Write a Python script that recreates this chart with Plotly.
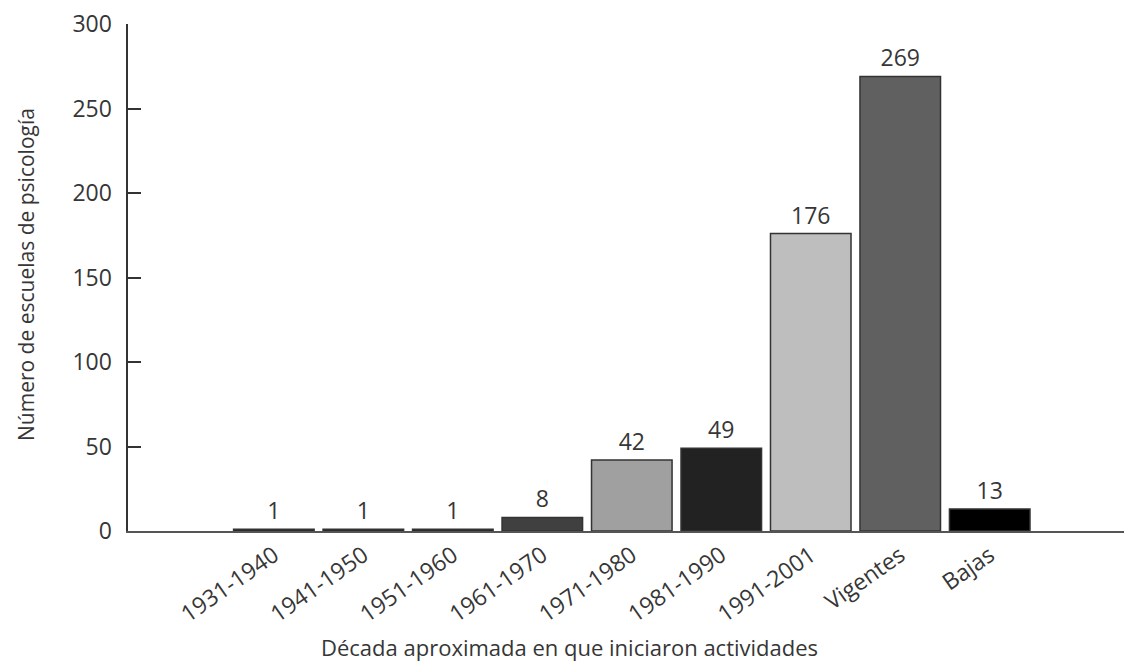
import plotly.graph_objects as go

categories = ["1931-1940", "1941-1950", "1951-1960", "1961-1970", "1971-1980",
              "1981-1990", "1991-2001", "Vigentes", "Bajas"]
values = [1, 1, 1, 8, 42, 49, 176, 269, 13]
colors = ["#111111", "#111111", "#111111", "#404040", "#a0a0a0",
          "#222222", "#bebebe", "#606060", "#000000"]
y_ticks = [0, 50, 100, 150, 200, 250, 300]

x_pos = list(range(len(categories)))
FONT = "Open Sans"
TXT = "#363636"

fig = go.Figure(go.Bar(
    x=x_pos, y=values, width=0.9,
    marker=dict(color=colors, line=dict(color="#333333", width=1.5)),
    text=[str(v) for v in values], textposition="outside",
    textfont=dict(family=FONT, size=23, color=TXT),
    cliponaxis=False,
))

fig.update_layout(
    width=1124, height=656,
    margin=dict(l=120, r=0, t=16, b=133, autoexpand=False),
    paper_bgcolor="white", plot_bgcolor="white",
    showlegend=False,
    font=dict(family=FONT, color=TXT),
    xaxis=dict(
        range=[-1.63, 9.59], tickmode="array", tickvals=x_pos, ticktext=categories,
        tickangle=-35, tickfont=dict(size=23, color=TXT), automargin=False,
        showgrid=False, zeroline=False, showline=True, linecolor="#555555", linewidth=2,
        ticks="", fixedrange=True, ticklabeloverflow="allow",
    ),
    yaxis=dict(
        range=[0, 300], tickmode="array", tickvals=y_ticks,
        ticktext=[str(v) + "\u00a0\u2009" for v in y_ticks],
        tickfont=dict(size=23, color=TXT), automargin=False,
        showgrid=False, zeroline=False, showline=True, linecolor="#333333", linewidth=1.5,
        ticks="inside", ticklen=13, tickwidth=1.5, tickcolor="#333333",
        ticklabeloverflow="allow",
    ),
    annotations=[
        dict(
            text="Década aproximada en que iniciaron actividades", xref="paper", yref="paper",
            x=(569 - 128) / 1004, y=-(647 - 531) / 507, xanchor="center", yanchor="middle",
            showarrow=False, font=dict(size=22, color=TXT),
        ),
        dict(
            text="Número de escuelas de psicología", xref="paper", yref="paper",
            x=(26 - 128) / 1004, y=(531 - 275) / 507, xanchor="center", yanchor="middle",
            textangle=-90, showarrow=False, font=dict(size=21, color=TXT),
        ),
    ],
)

fig.write_html("out.html")
